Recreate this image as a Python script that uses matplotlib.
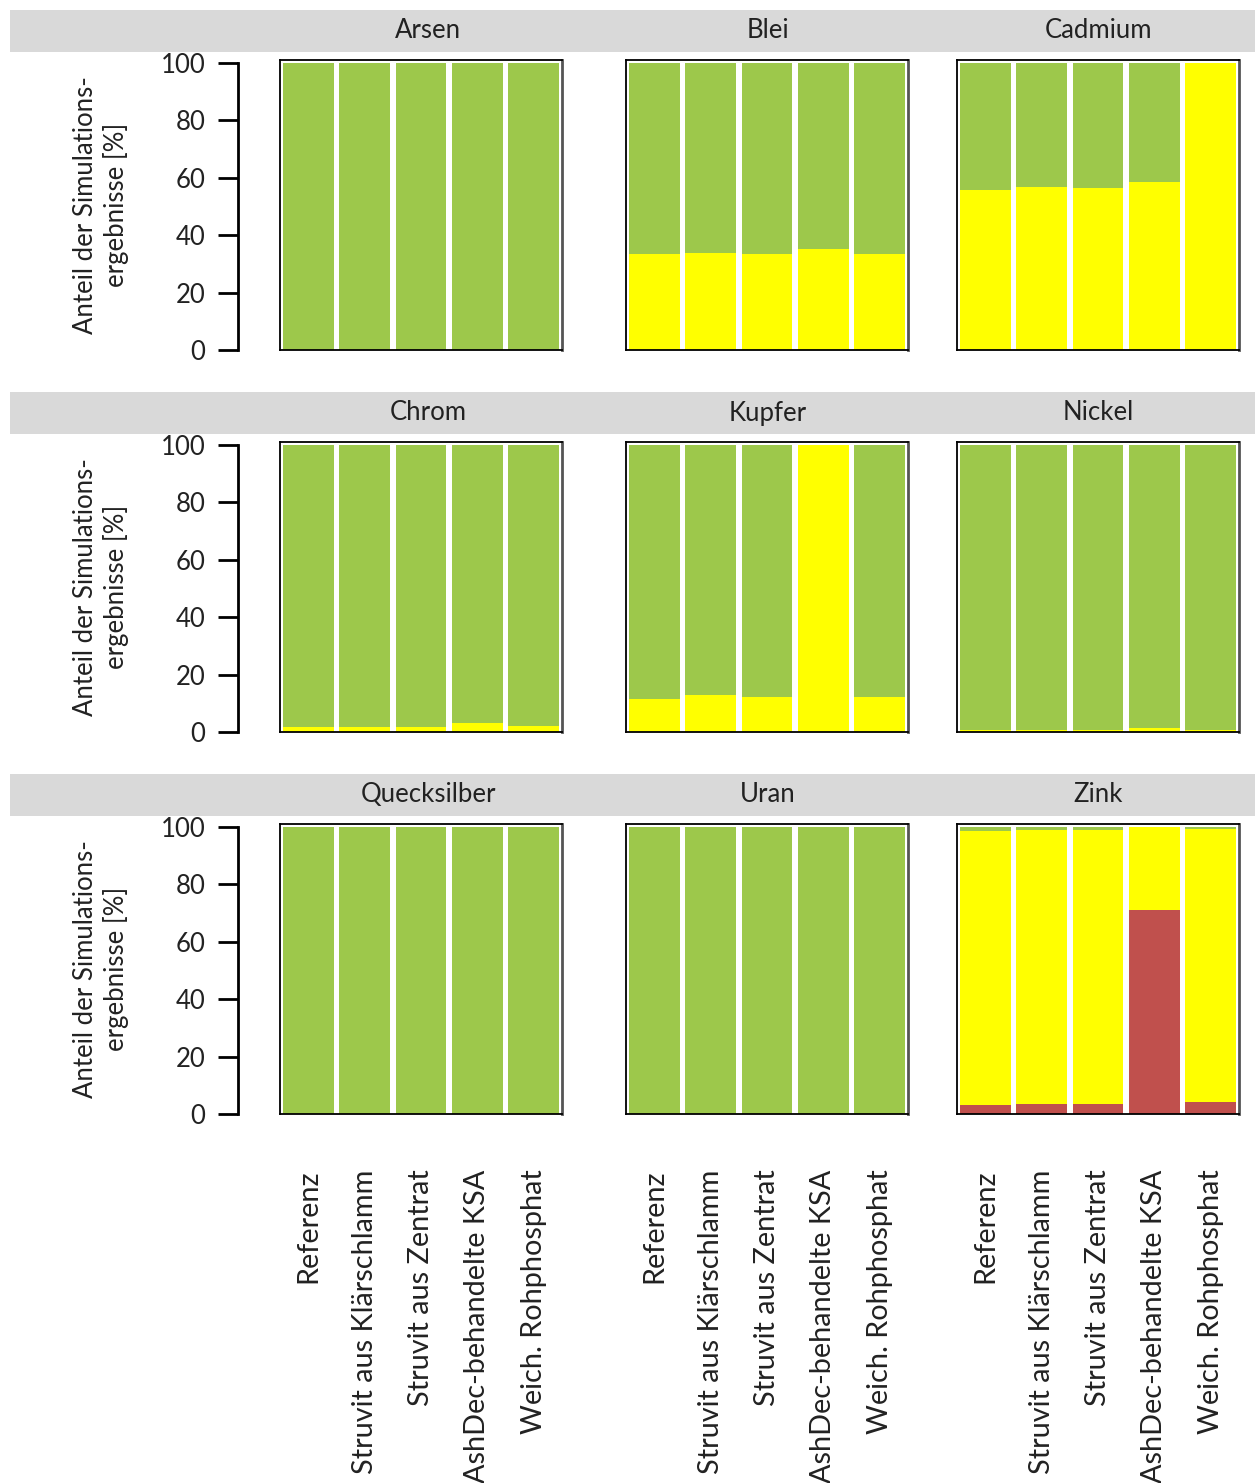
import matplotlib
matplotlib.use("Agg")
import matplotlib.pyplot as plt
from matplotlib.patches import Rectangle
import numpy as np

plt.rcParams['font.family'] = ['Lato', 'DejaVu Sans']

metals = ["Arsen", "Blei", "Cadmium",
          "Chrom", "Kupfer", "Nickel",
          "Quecksilber", "Uran", "Zink"]
scenarios = ["Referenz", "Struvit aus Klärschlamm", "Struvit aus Zentrat",
             "AshDec-behandelte KSA", "Weich. Rohphosphat"]

# shares [%] per metal, per scenario (bottom: red, middle: yellow, top: green)
red_share = [
    [0, 0, 0, 0, 0],
    [0, 0, 0, 0, 0],
    [0, 0, 0, 0, 0],
    [0, 0, 0, 0, 0],
    [0, 0, 0, 0, 0],
    [0, 0, 0, 0, 0],
    [0, 0, 0, 0, 0],
    [0, 0, 0, 0, 0],
    [3.2, 3.5, 3.5, 71.0, 4.2],
]
yellow_share = [
    [0, 0, 0, 0, 0],
    [33.4, 33.8, 33.4, 35.2, 33.4],
    [55.7, 56.8, 56.4, 58.5, 100.0],
    [1.7, 1.7, 1.7, 3.3, 2.2],
    [11.5, 12.9, 12.2, 100.0, 12.2],
    [0.8, 0.8, 0.8, 1.5, 0.8],
    [0, 0, 0, 0, 0],
    [0, 0, 0, 0, 0],
    [95.3, 95.5, 95.5, 29.0, 95.1],
]
green_share = [
    [100, 100, 100, 100, 100],
    [66.6, 66.2, 66.6, 64.8, 66.6],
    [44.3, 43.2, 43.6, 41.5, 0.0],
    [98.3, 98.3, 98.3, 96.7, 97.8],
    [88.5, 87.1, 87.8, 0.0, 87.8],
    [99.2, 99.2, 99.2, 98.5, 99.2],
    [100, 100, 100, 100, 100],
    [100, 100, 100, 100, 100],
    [1.5, 1.0, 1.0, 0.0, 0.7],
]
y_ticks = [0, 20, 40, 60, 80, 100]
y_label = "Anteil der Simulations-\nergebnisse [%]"

C_GREEN = "#9DC84B"
C_YELLOW = "#FFFF00"
C_RED = "#C0504D"
C_STRIP = "#D9D9D9"

W, H = 1255, 1483
fig = plt.figure(figsize=(W / 100, H / 100), dpi=100)

row_tops = [60, 442, 824]
col_lefts = [280, 626, 957]
title_x = [428, 768, 1098]
pw, ph = 282, 290
ymax = 101

def fr(x, top, w, h):
    return [x / W, 1 - (top + h) / H, w / W, h / H]

x = np.arange(len(scenarios))
for r in range(3):
    top = row_tops[r]
    # strip (from top-50 to top-8 in pixels)
    fig.patches.append(Rectangle((10 / W, 1 - (top - 8) / H), 1245 / W, 42 / H,
                                 transform=fig.transFigure, facecolor=C_STRIP,
                                 edgecolor='none', zorder=-1))
    # y axis
    ay = fig.add_axes(fr(238, top, 0.001, ph))
    ay.set_ylim(0, ymax)
    for s in ['top', 'right', 'bottom']:
        ay.spines[s].set_visible(False)
    ay.spines['left'].set_linewidth(2)
    ay.spines['left'].set_bounds(0, 100)
    ay.set_yticks(y_ticks)
    ay.tick_params(axis='y', direction='out', length=14.5, width=2, pad=9,
                   labelsize=18.5, labelcolor='#222222')
    ay.set_xticks([])
    ay.patch.set_alpha(0)
    fig.text(101 / W, 1 - (top + ph / 2) / H, y_label, rotation=90,
             ha='center', va='center', multialignment='center', fontsize=18.5,
             color='#222222')
    for c in range(3):
        i = r * 3 + c
        ax = fig.add_axes(fr(col_lefts[c], top, pw, ph))
        red = np.array(red_share[i], dtype=float)
        yel = np.array(yellow_share[i], dtype=float)
        grn = np.array(green_share[i], dtype=float)
        ax.bar(x, red, width=0.9, color=C_RED, edgecolor='none')
        ax.bar(x, yel, width=0.9, bottom=red, color=C_YELLOW, edgecolor='none')
        ax.bar(x, grn, width=0.9, bottom=red + yel, color=C_GREEN, edgecolor='none')
        ax.set_xlim(-0.5, 4.5)
        ax.set_ylim(0, ymax)
        ax.set_yticks([])
        for s in ['left', 'top', 'bottom']:
            ax.spines[s].set_color('black')
            ax.spines[s].set_linewidth(1.3)
        ax.spines['right'].set_color('#555555')
        ax.spines['right'].set_linewidth(2)
        ax.set_xticks(x)
        if r == 2:
            ax.set_xticklabels(scenarios, rotation=90, fontsize=20.8,
                               color='#222222')
            ax.tick_params(axis='x', length=0, pad=40)
        else:
            ax.set_xticklabels([])
            ax.tick_params(axis='x', length=0)
        fig.text(title_x[c] / W, 1 - (top - 29) / H, metals[i], ha='center',
                 va='center', fontsize=18.5, color='#222222')

fig.savefig("out.png", dpi=100)
